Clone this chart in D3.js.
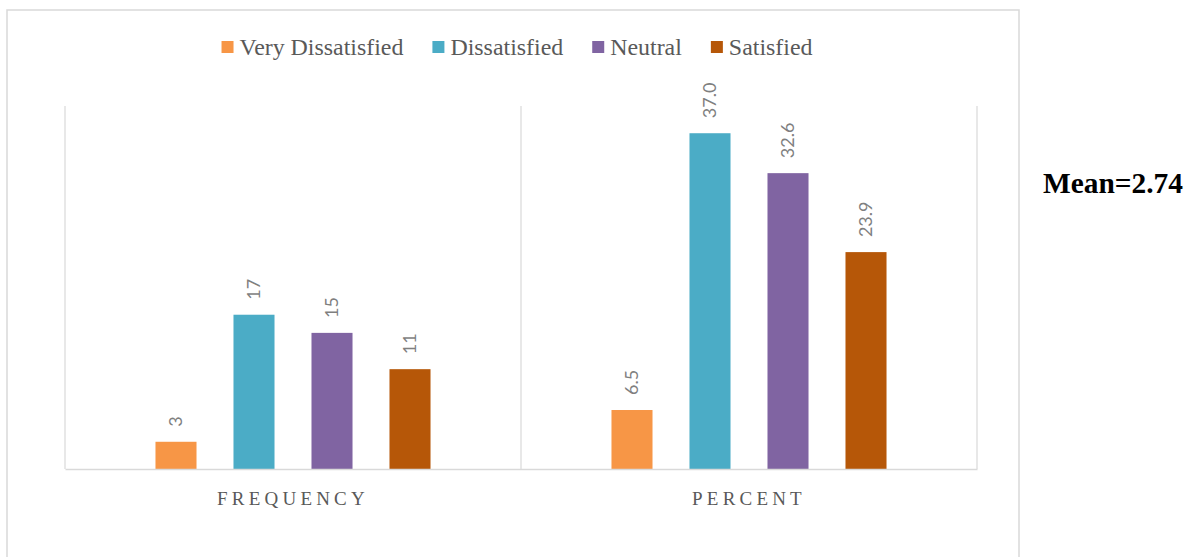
<!DOCTYPE html>
<html>
<head>
<meta charset="utf-8">
<script src="https://cdn.jsdelivr.net/npm/d3@7"></script>
<style>
  html, body { margin: 0; padding: 0; background: #ffffff; }
  svg { display: block; }
</style>
</head>
<body>
<svg id="chart" width="1191" height="557"></svg>
<script>
// Satisfaction responses: counts and percentages per level
const groups = ["FREQUENCY", "PERCENT"];
const series = ["Very Dissatisfied", "Dissatisfied", "Neutral", "Satisfied"];
const frequencyValues = [3, 17, 15, 11];
const percentValues = [6.5, 37.0, 32.6, 23.9];
const seriesColors = ["#F79646", "#4BACC6", "#8064A2", "#B65708"];
const meanLabel = "Mean=2.74";

const valuesByGroup = { "FREQUENCY": frequencyValues, "PERCENT": percentValues };
const labelFormat = { "FREQUENCY": d3.format("d"), "PERCENT": d3.format(".1f") };

const svg = d3.select("#chart");
const plot = { left: 65, right: 977, top: 106, bottom: 469 };
const gridColor = "#d9d9d9";
const serif = "'Liberation Serif', 'Times New Roman', serif";

// Outer chart frame
svg.append("rect")
  .attr("x", 7).attr("y", 10)
  .attr("width", 1012).attr("height", 560)
  .attr("fill", "#ffffff")
  .attr("stroke", gridColor)
  .attr("stroke-width", 1.5);

// Scales
const x0 = d3.scaleBand().domain(groups).range([plot.left, plot.right]).padding(0);
const x1 = d3.scaleBand().domain(series).range([0, x0.bandwidth()])
  .paddingInner(0.474).paddingOuter(1.16);
const y = d3.scaleLinear().domain([0, 40]).range([plot.bottom, plot.top]);
const color = d3.scaleOrdinal().domain(series).range(seriesColors);

// Vertical separators between categories
const sepX = groups.map(g => x0(g)).concat([x0(groups[groups.length - 1]) + x0.bandwidth()]);
svg.append("g").selectAll("line").data(sepX).join("line")
  .attr("x1", d => d).attr("x2", d => d)
  .attr("y1", plot.top).attr("y2", plot.bottom)
  .attr("stroke", gridColor).attr("stroke-width", 1.2);

// Bars
const rows = groups.flatMap(g => series.map((s, i) => ({ group: g, series: s, value: valuesByGroup[g][i] })));
svg.append("g").selectAll("rect").data(rows).join("rect")
  .attr("x", d => x0(d.group) + x1(d.series))
  .attr("y", d => y(d.value))
  .attr("width", x1.bandwidth())
  .attr("height", d => y(0) - y(d.value))
  .attr("fill", d => color(d.series));

// Value labels, rotated above each bar
svg.append("g").selectAll("text").data(rows).join("text")
  .attr("transform", d => {
    const cx = x0(d.group) + x1(d.series) + x1.bandwidth() / 2;
    return `translate(${cx},${y(d.value) - 15}) rotate(-90)`;
  })
  .attr("dy", "0.36em")
  .attr("text-anchor", "start")
  .attr("font-family", "Lato, 'Open Sans', sans-serif")
  .attr("font-size", 18)
  .attr("fill", "#7f7f7f")
  .text(d => labelFormat[d.group](d.value));

// Category axis along the baseline
const xAxis = d3.axisBottom(x0).tickSize(0).tickSizeOuter(0).tickPadding(23);
const axisG = svg.append("g")
  .attr("transform", `translate(0,${plot.bottom})`)
  .call(xAxis);
axisG.select(".domain").attr("stroke", gridColor).attr("stroke-width", 1.6);
axisG.selectAll(".tick text")
  .attr("font-family", serif)
  .attr("font-size", 19)
  .attr("letter-spacing", "4.2px")
  .attr("fill", "#595959");

// Legend across the top, centred
const legend = svg.append("g").attr("transform", "translate(0,55)");
const items = legend.selectAll("g").data(series).join("g");
items.append("rect")
  .attr("y", -14).attr("width", 12).attr("height", 12)
  .attr("fill", d => color(d));
items.append("text")
  .attr("x", 18)
  .attr("font-family", serif)
  .attr("font-size", 23.9)
  .attr("fill", "#595959")
  .text(d => d);
const widths = [];
items.each(function () {
  widths.push(18 + this.querySelector("text").getComputedTextLength());
});
const gap = 29;
const total = d3.sum(widths) + gap * (widths.length - 1);
let startX = 517 - total / 2;
items.attr("transform", (d, i) => {
  const tx = startX;
  startX += widths[i] + gap;
  return `translate(${tx},0)`;
});

// Mean annotation to the right of the chart
svg.append("text")
  .attr("x", 1043).attr("y", 193)
  .attr("font-family", serif)
  .attr("font-weight", "bold")
  .attr("font-size", 29.4)
  .attr("fill", "#000000")
  .text(meanLabel);
</script>
</body>
</html>
